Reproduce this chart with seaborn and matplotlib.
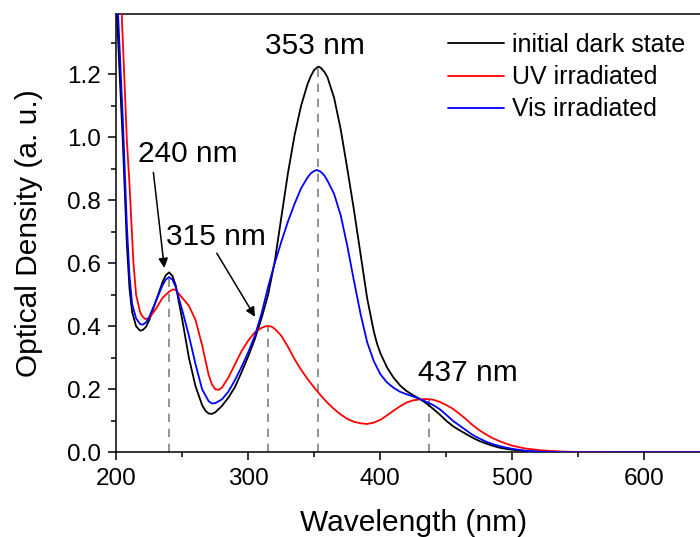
import matplotlib
matplotlib.use("Agg")
import matplotlib.pyplot as plt
import seaborn as sns
import pandas as pd
from matplotlib.ticker import MultipleLocator, FormatStrFormatter

# ---- data ----
wl_dark = [200, 202, 205, 208, 210, 212, 215, 218, 220, 222.5, 225, 230, 235, 237.5, 240, 242.5, 245, 250,
           255, 260, 265, 267.5, 270, 272.5, 275, 280, 285, 290, 295, 300, 305, 310, 315, 320, 325, 330,
           335, 340, 345, 347.5, 350, 353, 355, 357.5, 360, 365, 370, 375, 380, 385, 390, 395, 397.5,
           400, 405, 410, 415, 420, 425, 430, 435, 440, 445, 450, 455, 460, 465, 470, 475, 480, 485,
           490, 495, 500, 510, 520, 530, 550, 600, 650]
od_dark = [1.44, 1.25, 0.98, 0.66, 0.52, 0.445, 0.40, 0.386, 0.388, 0.398, 0.42, 0.48, 0.54, 0.562, 0.571,
           0.56, 0.53, 0.42, 0.30, 0.21, 0.15, 0.132, 0.123, 0.122, 0.127, 0.147, 0.174, 0.208, 0.255,
           0.305, 0.36, 0.425, 0.50, 0.605, 0.745, 0.885, 1.005, 1.10, 1.17, 1.195, 1.214, 1.224, 1.22,
           1.208, 1.19, 1.125, 1.025, 0.90, 0.77, 0.63, 0.49, 0.385, 0.345, 0.315, 0.27, 0.237, 0.212,
           0.194, 0.181, 0.169, 0.155, 0.138, 0.12, 0.10, 0.083, 0.07, 0.058, 0.046, 0.036, 0.028, 0.021,
           0.015, 0.011, 0.008, 0.004, 0.002, 0.001, 0.0, 0.0, 0.0]

wl_uv = [200, 203, 205, 208, 210, 213, 215, 218, 220, 222, 225, 230, 235, 240, 243, 245, 250, 255, 260,
         265, 270, 272.5, 275, 277.5, 280, 285, 290, 295, 300, 305, 310, 312.5, 315, 317.5, 320, 325, 330,
         335, 340, 345, 350, 355, 360, 365, 370, 375, 380, 385, 390, 395, 400, 405, 410, 415, 420, 425,
         430, 435, 440, 445, 450, 455, 460, 465, 470, 475, 480, 485, 490, 495, 500, 510, 520, 530, 540,
         550, 600, 650]
od_uv = [1.80, 1.50, 1.30, 0.99, 0.85, 0.60, 0.50, 0.445, 0.43, 0.423, 0.426, 0.455, 0.49, 0.51, 0.517,
         0.515, 0.49, 0.465, 0.42, 0.34, 0.245, 0.215, 0.20, 0.198, 0.205, 0.238, 0.28, 0.322, 0.355,
         0.381, 0.395, 0.399, 0.401, 0.399, 0.392, 0.37, 0.335, 0.296, 0.262, 0.232, 0.205, 0.18, 0.157,
         0.137, 0.12, 0.106, 0.097, 0.092, 0.09, 0.094, 0.103, 0.117, 0.132, 0.146, 0.158, 0.165, 0.168,
         0.169, 0.167, 0.16, 0.15, 0.138, 0.122, 0.105, 0.086, 0.07, 0.057, 0.045, 0.036, 0.028, 0.021,
         0.012, 0.007, 0.004, 0.002, 0.001, 0.0, 0.0]

wl_vis = [200, 202, 205, 208, 210, 212, 215, 218, 220, 222.5, 225, 230, 235, 237.5, 240, 242.5, 245, 250,
          255, 260, 265, 270, 272.5, 275, 280, 285, 290, 295, 300, 305, 310, 315, 320, 325, 330, 335, 340,
          345, 347.5, 350, 352, 355, 357.5, 360, 365, 370, 375, 380, 385, 390, 395, 400, 405, 410, 415,
          420, 425, 430, 435, 440, 445, 450, 455, 460, 465, 470, 475, 480, 485, 490, 495, 500, 510, 520,
          530, 550, 600, 650]
od_vis = [1.52, 1.33, 1.05, 0.72, 0.56, 0.47, 0.425, 0.407, 0.405, 0.412, 0.43, 0.48, 0.53, 0.548, 0.556,
          0.548, 0.525, 0.45, 0.37, 0.28, 0.20, 0.162, 0.155, 0.156, 0.168, 0.193, 0.23, 0.272, 0.318,
          0.37, 0.44, 0.525, 0.60, 0.668, 0.732, 0.788, 0.838, 0.873, 0.886, 0.893, 0.896, 0.89, 0.879,
          0.862, 0.82, 0.752, 0.655, 0.545, 0.44, 0.35, 0.29, 0.248, 0.222, 0.205, 0.192, 0.184, 0.177,
          0.169, 0.16, 0.15, 0.137, 0.119, 0.10, 0.085, 0.07, 0.055, 0.044, 0.034, 0.026, 0.02, 0.015,
          0.011, 0.005, 0.002, 0.001, 0.0, 0.0, 0.0]

series_names = ["initial dark state", "UV irradiated", "Vis irradiated"]
series_colors = ["#000000", "#ff0000", "#0000ff"]

peak_wl = [240, 315, 353, 437]
peak_top = [0.55, 0.40, 1.22, 0.17]
peak_labels = ["240 nm", "315 nm", "353 nm", "437 nm"]

df = pd.concat([
    pd.DataFrame({"Wavelength": wl_dark, "OD": od_dark, "series": series_names[0]}),
    pd.DataFrame({"Wavelength": wl_uv, "OD": od_uv, "series": series_names[1]}),
    pd.DataFrame({"Wavelength": wl_vis, "OD": od_vis, "series": series_names[2]}),
], ignore_index=True)

# ---- style ----
sns.set_style("ticks")
plt.rcParams["font.family"] = ["Liberation Sans", "DejaVu Sans"]
plt.rcParams["text.color"] = "black"
plt.rcParams["axes.labelcolor"] = "black"
plt.rcParams["xtick.color"] = "black"
plt.rcParams["ytick.color"] = "black"
plt.rcParams["axes.edgecolor"] = "black"
plt.rcParams["axes.linewidth"] = 1.1

fig = plt.figure(figsize=(7.0, 5.37), dpi=100)
ax = fig.add_axes([116.3 / 700, (537 - 452.3) / 537, (710.3 - 116.3) / 700, (452.3 - 14.3) / 537])

# dashed guide lines
ax.vlines(peak_wl, 0, peak_top, colors="#808080", linestyles=(0, (5, 4)), linewidth=1.2, zorder=1)

sns.lineplot(data=df, x="Wavelength", y="OD", hue="series", hue_order=series_names,
             palette=series_colors, linewidth=1.3, sort=True, estimator=None, ax=ax, zorder=3)

ax.set_xlim(200, 650)
ax.set_ylim(0, 1.39)
ax.xaxis.set_major_locator(MultipleLocator(100))
ax.xaxis.set_minor_locator(MultipleLocator(50))
ax.yaxis.set_major_locator(MultipleLocator(0.2))
ax.yaxis.set_minor_locator(MultipleLocator(0.1))
ax.yaxis.set_major_formatter(FormatStrFormatter("%.1f"))
ax.tick_params(which="major", direction="out", length=6, width=1.1, labelsize=17.5, pad=5,
               colors="black")
ax.tick_params(which="minor", direction="out", length=3.5, width=1.1, colors="black")
for s in ["left", "bottom", "top", "right"]:
    ax.spines[s].set_visible(True)
    ax.spines[s].set_color("black")

ax.set_xlabel("Wavelength (nm)", fontsize=21.5, labelpad=14, color="black")
ax.set_ylabel("Optical Density (a. u.)", fontsize=21.5, labelpad=17, color="black")

# annotations
ax.text(350.5, 1.29, peak_labels[2], fontsize=21.5, ha="center", va="center", color="black")
ax.text(466, 0.253, peak_labels[3], fontsize=21.5, ha="center", va="center", color="black")
ax.text(254.4, 0.947, peak_labels[0], fontsize=21.5, ha="center", va="center", color="black")
ax.text(275.4, 0.684, peak_labels[1], fontsize=21.5, ha="center", va="center", color="black")
arrow_kw = dict(arrowstyle="-|>", color="black", lw=1.1, mutation_scale=14, shrinkA=0, shrinkB=0)
ax.annotate("", xy=(236.4, 0.585), xytext=(228.1, 0.888), arrowprops=arrow_kw)
ax.annotate("", xy=(305.1, 0.43), xytext=(276.1, 0.632), arrowprops=arrow_kw)

leg = ax.legend(loc="upper left", bbox_to_anchor=(448 / 700, 1 - 33 / 537), bbox_transform=fig.transFigure,
                frameon=False, fontsize=18, handlelength=2.25, handletextpad=0.3, labelspacing=0.33,
                borderpad=0, borderaxespad=0)
for line in leg.get_lines():
    line.set_linewidth(1.3)
for t in leg.get_texts():
    t.set_color("black")

fig.savefig("out.png", dpi=100)
